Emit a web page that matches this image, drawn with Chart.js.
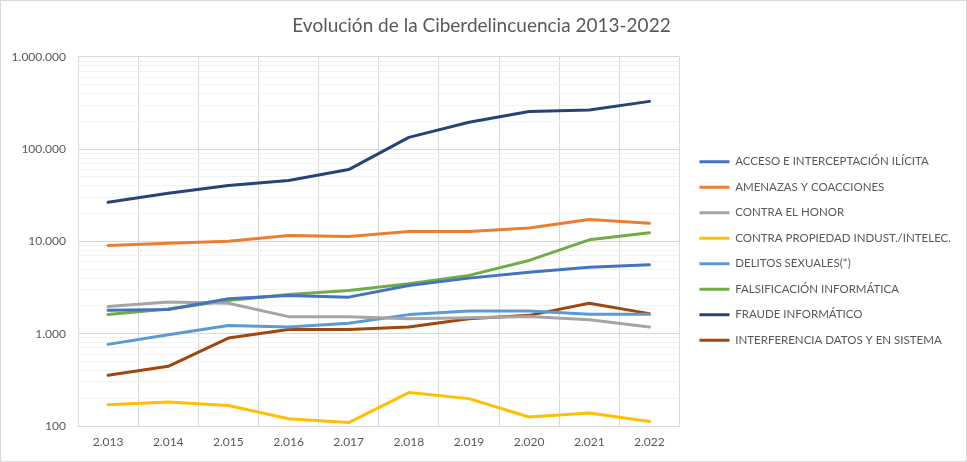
<!DOCTYPE html>
<html>
<head>
<meta charset="utf-8">
<script src="https://cdn.jsdelivr.net/npm/chart.js@4.4.0/dist/chart.umd.min.js"></script>
<style>
    body { margin: 0; background: #fff; }
    #wrap { width: 967px; height: 462px; position: relative; }
</style>
</head>
<body>
<div id="wrap"><canvas id="ciber"></canvas></div>
<script>
const years = ["2.013", "2.014", "2.015", "2.016", "2.017", "2.018", "2.019", "2.020", "2.021", "2.022"];

const acceso = [1790, 1830, 2390, 2600, 2490, 3330, 4000, 4640, 5260, 5580];
const amenazas = [9030, 9570, 10050, 11600, 11300, 12800, 12800, 14000, 17300, 15700];
const honor = [1970, 2200, 2140, 1530, 1530, 1450, 1490, 1540, 1420, 1180];
const propiedad = [170, 182, 167, 120, 109, 230, 198, 125, 138, 112];
const sexuales = [766, 976, 1230, 1180, 1300, 1610, 1760, 1760, 1620, 1620];
const falsificacion = [1610, 1850, 2290, 2660, 2940, 3480, 4280, 6220, 10400, 12400];
const fraude = [26500, 33200, 40300, 45600, 60000, 134000, 195000, 256000, 265000, 329000];
const interferencia = [354, 443, 896, 1110, 1110, 1180, 1450, 1580, 2140, 1650];

const yTickValues = [100, 1000, 10000, 100000, 1000000];

const textColor = "#595959";
const fontFamily = "Lato, 'Liberation Sans', sans-serif";

// desplazamiento fino de la leyenda
const legendShift = { x: 6, y: 20 };

function serie(label, data, color) {
    return {
        label: label,
        data: data,
        borderColor: color,
        backgroundColor: color,
        borderWidth: 3,
        pointRadius: 0,
        pointHoverRadius: 0,
        pointStyle: "line",
        tension: 0,
        borderCapStyle: "round",
        borderJoinStyle: "round"
    };
}

function puntos(n) {
    return String(n).replace(/\B(?=(\d{3})+(?!\d))/g, ".");
}

function esPotencia(v) {
    return yTickValues.indexOf(v) !== -1;
}

const marco = {
    id: "marco",
    afterLayout(chart) {
        const lg = chart.legend;
        lg.left += legendShift.x;
        lg.right += legendShift.x;
        lg.top += legendShift.y;
        lg.bottom += legendShift.y;
    },
    beforeDraw(chart) {
        const c = chart.ctx;
        c.save();
        c.fillStyle = "#fff";
        c.fillRect(0, 0, chart.width, chart.height);
        c.strokeStyle = "#D9D9D9";
        c.lineWidth = 1;
        c.strokeRect(0.5, 0.5, chart.width - 1, chart.height - 1);
        c.restore();
    }
};

var ctx = document.getElementById("ciber").getContext("2d");
var myChart = new Chart(ctx, {
    type: "line",
    data: {
        labels: years,
        datasets: [
            serie("ACCESO E INTERCEPTACIÓN ILÍCITA", acceso, "#4472C4"),
            serie("AMENAZAS Y COACCIONES", amenazas, "#ED7D31"),
            serie("CONTRA EL HONOR", honor, "#A5A5A5"),
            serie("CONTRA PROPIEDAD INDUST./INTELEC.", propiedad, "#FFC000"),
            serie("DELITOS SEXUALES(*)", sexuales, "#5B9BD5"),
            serie("FALSIFICACIÓN INFORMÁTICA", falsificacion, "#70AD47"),
            serie("FRAUDE INFORMÁTICO", fraude, "#264478"),
            serie("INTERFERENCIA DATOS Y EN SISTEMA", interferencia, "#9E480E")
        ]
    },
    options: {
        responsive: true,
        maintainAspectRatio: false,
        animation: false,
        layout: {
            padding: { left: 8, right: 12, top: 0, bottom: 0 }
        },
        plugins: {
            title: {
                display: true,
                text: "Evolución de la Ciberdelincuencia 2013-2022",
                color: textColor,
                font: { family: fontFamily, size: 19, weight: "normal" },
                padding: { top: 14, bottom: 20 }
            },
            legend: {
                position: "right",
                maxWidth: 340,
                labels: {
                    usePointStyle: true,
                    pointStyle: "line",
                    pointStyleWidth: 30,
                    color: textColor,
                    font: { family: fontFamily, size: 11.5 },
                    padding: 14
                }
            },
            tooltip: { enabled: false }
        },
        scales: {
            x: {
                offset: true,
                grid: {
                    offset: true,
                    color: "#D9D9D9",
                    drawTicks: false
                },
                border: { color: "#D9D9D9" },
                ticks: {
                    color: textColor,
                    font: { family: fontFamily, size: 12 },
                    padding: 9,
                    maxRotation: 0
                },
                afterFit: function(s) { s.height = 36; }
            },
            y: {
                type: "logarithmic",
                min: 100,
                max: 1000000,
                afterBuildTicks: function(s) {
                    var t = [];
                    for (var e = 2; e < 6; e++) {
                        for (var m = 1; m < 10; m++) {
                            t.push({ value: m * Math.pow(10, e) });
                        }
                    }
                    t.push({ value: 1000000 });
                    s.ticks = t;
                },
                grid: {
                    color: function(c) {
                        return c.tick && esPotencia(c.tick.value) ? "#D9D9D9" : "#F2F2F2";
                    },
                    drawTicks: false
                },
                border: { color: "#D9D9D9" },
                ticks: {
                    autoSkip: false,
                    color: textColor,
                    font: { family: fontFamily, size: 12 },
                    padding: 12,
                    callback: function(v) {
                        return esPotencia(v) ? puntos(v) : "";
                    }
                },
                afterFit: function(s) { s.width = 70; }
            }
        }
    },
    plugins: [marco]
});
</script>
</body>
</html>
